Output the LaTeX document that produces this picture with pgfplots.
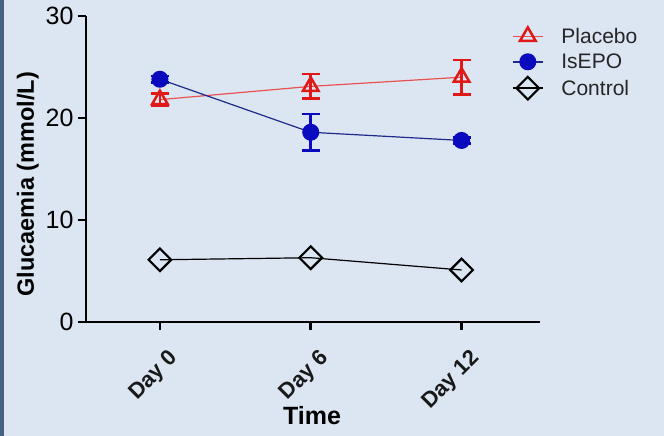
\documentclass[border=0pt]{standalone}
\usepackage{pgfplots}
\pgfplotsset{compat=1.18}
\usepackage{fontspec}
\setmainfont{Liberation Sans}
\definecolor{bg}{HTML}{DCE6F2}
\definecolor{strip}{HTML}{46607F}
\definecolor{pred}{HTML}{E01818}
\definecolor{pblue}{HTML}{0A0ABF}
\definecolor{lblue}{HTML}{1E2A8A}
\begin{document}
\begin{tikzpicture}[x=1pt,y=1pt]
\fill[bg] (0,0) rectangle (664,436);
\fill[strip] (0,0) rectangle (4,436);
\fill[bg!70!blue!30] (4,0) rectangle (5.5,436);
\begin{axis}[
  at={(86pt,114pt)}, anchor=south west,
  width=454pt, height=306pt, scale only axis,
  xmin=-0.49, xmax=2.52, ymin=0, ymax=30,
  axis x line=bottom, axis y line=left,
  axis line style={line width=2.5pt, -},
  every outer x axis line/.append style={-},
  every outer y axis line/.append style={-},
  xtick={0,1,2}, xticklabels={Day 0,Day 6,Day 12},
  ytick={0,10,20,30},
  tick style={line width=2.5pt, black},
  tick align=outside, major tick length=8pt,
  x tick label style={rotate=45, anchor=north east, font=\fontsize{22}{22}\selectfont\bfseries, text=black!90, xshift=-4pt, yshift=-15pt},
  y tick label style={font=\fontsize{25}{25}\selectfont, xshift=-1pt},
  /pgf/number format/assume math mode=true,
  xlabel={Time}, ylabel={Glucaemia (mmol/L)},
  xlabel style={font=\fontsize{25}{25}\selectfont\bfseries, at={(axis description cs:0.498,-0.306)}, anchor=center},
  ylabel style={font=\fontsize{23.5}{23.5}\selectfont\bfseries, at={(axis description cs:-0.128,0.45)}, anchor=center, rotate=0},
  legend style={at={(axis description cs:0.938,0.968)}, anchor=north west, draw=none, fill=none,
    font=\fontsize{21}{21}\selectfont, row sep=5pt, inner sep=0pt, text=black!85},
  legend cell align=left,
  legend image code/.code={\draw[#1, line width=1.5pt, mark repeat=2, mark phase=2] plot coordinates {(0pt,0pt) (15pt,0pt) (30pt,0pt)}; \path (46pt,0pt);},
  clip=false,
]
\addplot[color=pred!75, line width=1.2pt, mark=triangle, mark size=9pt,
  mark options={draw=pred, line width=2.5pt, fill=none},
  error bars/.cd, y dir=both, y explicit,
  error bar style={line width=2.5pt, pred},
  error mark options={rotate=90, mark size=9pt, line width=2.5pt, pred}]
  coordinates {(0,21.8) +- (0,0.6) (1,23.1) +- (0,1.2) (2,24.0) +- (0,1.7)};
\addlegendentry{Placebo}
\addplot[color=lblue, line width=1.2pt, mark=*, mark size=8pt,
  mark options={draw=pblue, fill=pblue, line width=1pt},
  error bars/.cd, y dir=both, y explicit,
  error bar style={line width=2.5pt, pblue},
  error mark options={rotate=90, mark size=9pt, line width=2.5pt, pblue}]
  coordinates {(0,23.8) +- (0,0.3) (1,18.6) +- (0,1.8) (2,17.8) +- (0,0.3)};
\addlegendentry{IsEPO}
\addplot[color=black, line width=1.2pt, mark=square, mark size=8pt,
  mark options={rotate=45, draw=black, line width=2.2pt, fill=none}]
  coordinates {(0,6.1) (1,6.3) (2,5.1)};
\addlegendentry{Control}
\end{axis}
\end{tikzpicture}
\end{document}
